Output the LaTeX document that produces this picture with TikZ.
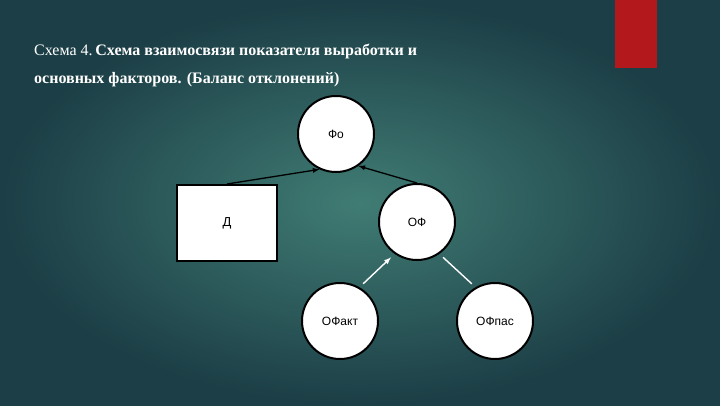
\documentclass[tikz,border=0pt]{standalone}
\usepackage{fontspec}
\setmainfont{Liberation Serif}
\newfontfamily\labfont{Liberation Sans}
\begin{document}
\begin{tikzpicture}[x=1pt,y=-1pt,
  circ/.style={circle,draw=black,line width=2pt,fill=white,minimum size=76pt,inner sep=0pt,font=\labfont\fontsize{12}{14}\selectfont},
  boxn/.style={rectangle,draw=black,line width=2pt,fill=white,minimum width=100pt,minimum height=76pt,font=\labfont\fontsize{13}{15}\selectfont},
  darr/.style={-latex,line width=1.3pt,black},
  wline/.style={line width=1.4pt,white}]
\definecolor{bgout}{RGB}{28,62,70}
\definecolor{bgin}{RGB}{64,124,116}
\definecolor{redbar}{RGB}{178,24,28}
\fill[inner color=bgin,outer color=bgout] (0,0) rectangle (720,405);
\useasboundingbox (0,0) rectangle (720,405);
\fill[redbar] (615,0) rectangle (657,68);
\node[anchor=north west,align=left,text=white,font=\fontsize{16}{28}\selectfont,inner sep=0pt] (title) at (34,44)
 {Схема 4.\,\textbf{Схема взаимосвязи показателя выработки и}\\\textbf{основных факторов. (Баланс отклонений)}};
\node[circ] (fo) at (336,134) {Фо};
\node[boxn] (d) at (227,223) {Д};
\node[circ] (of) at (417,222) {ОФ};
\node[circ] (ofakt) at (340,321) {ОФакт};
\node[circ] (ofpas) at (495,321) {ОФпас};
\draw[darr] (d.north) -- (fo.245);
\draw[darr] (of.north) -- (fo.-55);
\draw[wline,-latex,shorten <=5pt,shorten >=5pt] (ofakt.60) -- (of.235);
\draw[wline,shorten <=5pt,shorten >=5pt] (ofpas.120) -- (of.305);
\end{tikzpicture}
\end{document}
